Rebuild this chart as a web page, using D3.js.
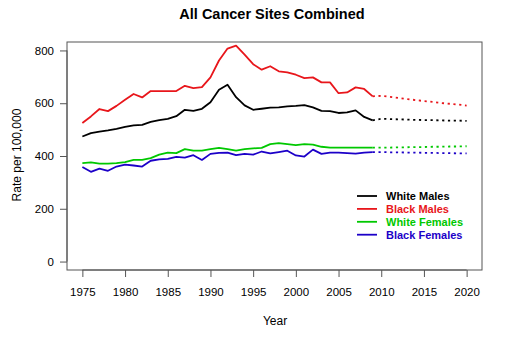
<!DOCTYPE html>
<html><head><meta charset="utf-8">
<script src="https://cdn.jsdelivr.net/npm/d3@7"></script>
<style>body{margin:0;background:#fff}svg{display:block;font-family:"Liberation Sans",Arial,sans-serif}</style>
</head><body>
<script>
const years = d3.range(1975, 2010);
const projYears = d3.range(2009, 2021);
const whiteMales = [474,487,492,497,503,510,516,518,529,536,541,551,575,571,579,604,651,670,623,592,575,579,583,584,588,590,593,584,571,570,563,565,573,548,535];
const blackMales = [525,550,578,570,590,613,635,622,646,646,646,646,666,657,661,698,762,807,818,784,748,727,740,721,717,708,695,698,679,679,638,641,660,654,626];
const whiteFemales = [373,376,371,371,373,377,385,385,392,405,413,411,426,420,420,426,431,426,420,426,429,431,445,449,445,441,445,443,435,432,432,432,432,432,432];
const blackFemales = [358,340,352,344,360,367,364,360,382,387,389,397,394,403,385,408,412,413,403,408,405,417,410,415,420,402,398,424,408,413,413,411,409,413,415];
const projWhiteMales = [535,541,540,539,538,537,536,536,535,534,534,533];
const projBlackMales = [626,628,624,620,616,612,608,605,601,598,595,591];
const projWhiteFemales = [432,432,432,433,433,434,434,435,435,436,436,437];
const projBlackFemales = [415,415,414,414,413,413,412,412,411,411,410,410];
const seriesNames = ["White Males","Black Males","White Females","Black Females"];
const colors = ["#000000","#e8161b","#00c800","#1c00c8"];
const xTicks = [1975,1980,1985,1990,1995,2000,2005,2010,2015,2020];
const yTicks = [0,200,400,600,800];

const W = 528, H = 338;
const svg = d3.select("body").append("svg").attr("width", W).attr("height", H);
const x = d3.scaleLinear().domain([1973.2, 2021.8]).range([67, 482]);
const y = d3.scaleLinear().domain([-32, 832]).range([270, 42]);

svg.append("text").attr("x", 272).attr("y", 19).attr("text-anchor","middle")
  .attr("font-size", 14.5).attr("font-weight","bold").text("All Cancer Sites Combined");

// box
svg.append("rect").attr("x", 67).attr("y", 42).attr("width", 415).attr("height", 228)
  .attr("fill","none").attr("stroke","#555").attr("stroke-width",1);

// x axis
const xa = svg.append("g").attr("transform","translate(0,270)")
  .call(d3.axisBottom(x).tickValues(xTicks).tickFormat(d3.format("d")).tickSize(7).tickPadding(11));
xa.select(".domain").attr("d", `M${x(1975)},0H${x(2020)}`).attr("stroke","#555");
xa.selectAll(".tick line").attr("stroke","#555");
xa.selectAll("text").attr("font-size", 11.5).attr("fill","#000").attr("font-family","Liberation Sans, Arial, sans-serif");

// y axis
const ya = svg.append("g").attr("transform","translate(67,0)")
  .call(d3.axisLeft(y).tickValues(yTicks).tickSize(7).tickPadding(6));
ya.select(".domain").attr("d", `M0,${y(0)}V${y(800)}`).attr("stroke","#555");
ya.selectAll(".tick line").attr("stroke","#555");
ya.selectAll("text").attr("font-size", 11.5).attr("fill","#000").attr("font-family","Liberation Sans, Arial, sans-serif");

svg.append("text").attr("x", 275).attr("y", 325).attr("text-anchor","middle").attr("font-size", 12).text("Year");
svg.append("text").attr("transform","translate(21,155) rotate(-90)").attr("text-anchor","middle").attr("font-size", 12).text("Rate per 100,000");

const obs = [whiteMales, blackMales, whiteFemales, blackFemales];
const proj = [projWhiteMales, projBlackMales, projWhiteFemales, projBlackFemales];
const line = d3.line().x(d => x(d[0])).y(d => y(d[1]));
obs.forEach((vals, i) => {
  svg.append("path").attr("d", line(years.map((yr, j) => [yr, vals[j]])))
    .attr("fill","none").attr("stroke", colors[i]).attr("stroke-width", 1.8).attr("stroke-linejoin","round");
});
proj.forEach((vals, i) => {
  svg.append("path").attr("d", line(projYears.map((yr, j) => [yr, vals[j]])))
    .attr("fill","none").attr("stroke", colors[i]).attr("stroke-width", 1.8).attr("stroke-dasharray","2.2,3.6");
});

// legend
const lg = svg.append("g");
seriesNames.forEach((n, i) => {
  const yy = 196 + i * 12.9;
  lg.append("line").attr("x1", 357).attr("x2", 377).attr("y1", yy).attr("y2", yy)
    .attr("stroke", colors[i]).attr("stroke-width", 1.8);
  lg.append("text").attr("x", 386).attr("y", yy + 4).attr("font-size", 11).attr("font-weight","bold")
    .attr("fill", colors[i]).text(n);
});
</script>
</body></html>
